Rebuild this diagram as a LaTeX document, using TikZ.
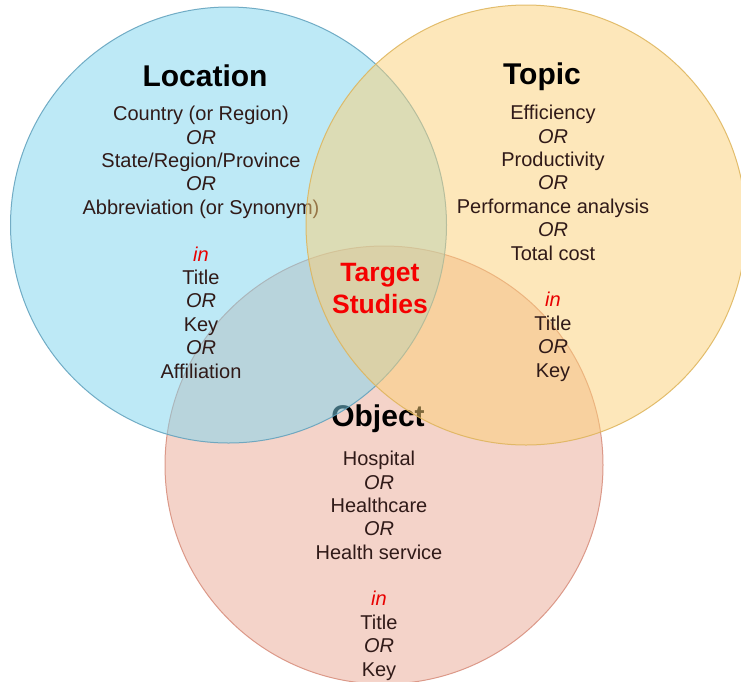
\documentclass[tikz,border=0pt]{standalone}
\usepackage{fontspec}
\setmainfont{Liberation Sans}
\definecolor{blueF}{RGB}{125,213,239}
\definecolor{blueD}{RGB}{95,160,188}
\definecolor{yelF}{RGB}{252,208,118}
\definecolor{yelD}{RGB}{222,180,90}
\definecolor{pinkF}{RGB}{235,169,149}
\definecolor{pinkD}{RGB}{215,140,122}
\definecolor{bodytxt}{RGB}{48,26,24}
\definecolor{inred}{RGB}{232,0,0}
\definecolor{tgred}{RGB}{245,0,0}
\begin{document}
\begin{tikzpicture}[x=1pt,y=-1pt,
  setcircle/.style={circle,minimum size=#1,inner sep=0pt,line width=1pt,fill opacity=0.5,draw opacity=0.85},
  ttl/.style={anchor=base,inner sep=0pt,font=\fontsize{30}{32}\selectfont\bfseries,text=black},
  bodyblk/.style={anchor=base,inner sep=0pt,align=center,font=\fontsize{20}{23.4}\selectfont,text=bodytxt},
  tgt/.style={anchor=base,inner sep=0pt,align=center,font=\fontsize{26.5}{32}\selectfont\bfseries,text=tgred}]
\useasboundingbox (0,0) rectangle (741,681);
\clip (0,0) rectangle (741,681);
\fill[white] (0,0) rectangle (741,681);
% Object circle
\node[setcircle=438pt,fill=pinkF,draw=pinkD] (objc) at (384,465) {};
\node[ttl] (objt) at (378,426) {Object};
\node[bodyblk] (objb) at (379,676) {Hospital\\\textit{OR}\\Healthcare\\\textit{OR}\\Health service\\[23.2pt]\textcolor{inred}{\textit{in}}\\Title\\\textit{OR}\\Key};
% Location circle
\node[setcircle=436pt,fill=blueF,draw=blueD] (locc) at (228.5,225) {};
\node[ttl] (loct) at (205,86) {Location};
\node[bodyblk] (locb) at (201,378) {Country (or Region)\\\textit{OR}\\State/Region/Province\\\textit{OR}\\Abbreviation (or Synonym)\\[23.4pt]\textcolor{inred}{\textit{in}}\\Title\\\textit{OR}\\Key\\\textit{OR}\\Affiliation};
% Topic circle
\node[setcircle=440pt,fill=yelF,draw=yelD] (topc) at (526,225) {};
\node[ttl] (topt) at (542,84) {Topic};
\node[bodyblk] (topb) at (553,377) {Efficiency\\\textit{OR}\\Productivity\\\textit{OR}\\Performance analysis\\\textit{OR}\\Total cost\\[23.4pt]\textcolor{inred}{\textit{in}}\\Title\\\textit{OR}\\Key};
% Center
\node[tgt] (tgt) at (380,313.5) {Target\\Studies};
\end{tikzpicture}
\end{document}
